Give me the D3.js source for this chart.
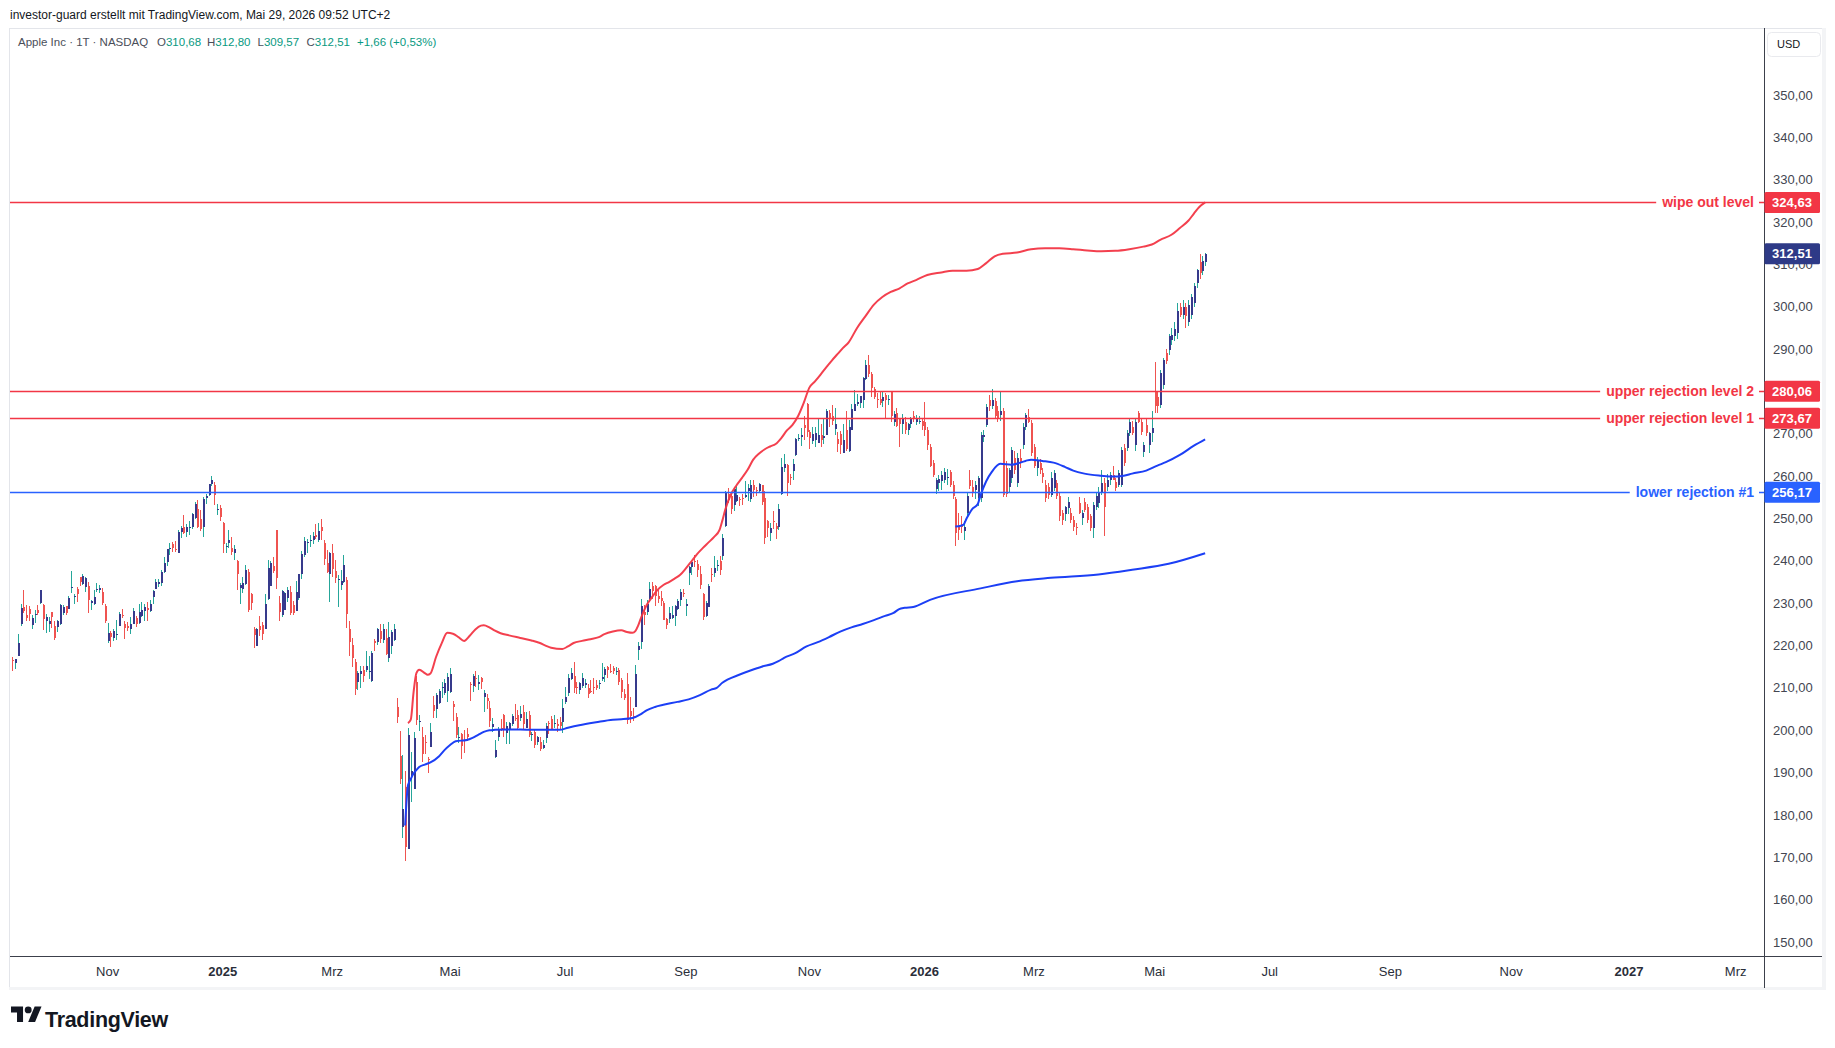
<!DOCTYPE html>
<html>
<head>
<meta charset="utf-8">
<script src="https://cdn.jsdelivr.net/npm/d3@7"></script>
<style>
  body { margin: 0; background: #fff; }
  svg text { font-family: "Liberation Sans", Arial, sans-serif; }
</style>
</head>
<body>
<svg id="chart" width="1835" height="1048"></svg>
<script>
// ---- data ----
const firstDay = "2024-09-16";
const lastAxisDay = "2027-04-30";
const holidays = [
  "2024-11-28","2024-12-25","2025-01-01","2025-01-09","2025-01-20","2025-02-17","2025-04-18",
  "2025-05-26","2025-06-19","2025-07-04","2025-09-01","2025-11-27","2025-12-25","2026-01-01",
  "2026-01-19","2026-02-16","2026-04-03","2026-05-25","2026-06-19","2026-07-03","2026-09-07",
  "2026-11-26","2026-12-25","2027-01-01","2027-01-18","2027-02-15","2027-03-26"
];
const monthNames = ["Jan","Feb","Mrz","Apr","Mai","Jun","Jul","Aug","Sep","Okt","Nov","Dez"];

// daily bars [open, high, low, close], one row per trading day from firstDay
const bars = [
  // 2024 Sep
  [216.5,217.2,213.9,216.3],[215.8,216.9,214.5,216.8],[217.6,222.7,217.5,220.7],[225.0,229.8,224.6,228.9],
  [229.0,233.1,227.6,228.2],[227.3,229.5,225.8,226.5],[228.6,229.4,225.9,227.4],[224.9,227.3,224.0,226.4],
  [227.3,228.5,225.4,227.5],[228.5,229.5,227.3,227.8],[230.0,233.0,229.7,233.0],
  // Oct
  [229.5,229.7,223.7,226.2],[225.9,227.4,223.0,226.8],[225.1,226.8,223.3,225.7],[227.9,228.0,224.1,226.8],
  [224.5,225.7,221.2,221.7],[224.3,226.0,223.3,225.8],[225.2,229.8,224.8,229.5],[227.8,229.5,227.2,229.0],
  [229.3,229.4,227.3,227.6],[228.7,231.7,228.6,231.3],[233.6,237.5,232.4,233.9],[231.6,232.1,229.8,231.8],
  [233.4,233.9,230.4,232.2],[236.2,236.2,234.0,235.0],[234.5,236.9,234.4,236.5],[233.9,236.2,232.6,235.9],
  [234.1,235.1,227.8,230.8],[230.0,230.8,228.4,230.6],[229.7,233.2,229.6,231.4],[233.3,234.7,232.6,233.4],
  [233.1,234.3,232.3,233.7],[232.6,233.5,229.6,230.1],[229.3,229.8,225.4,225.9],
  // Nov
  [221.0,225.4,220.6,222.9],[223.0,223.5,219.7,222.0],[221.8,224.0,221.1,223.5],[222.6,226.1,221.2,222.7],
  [224.6,227.9,224.6,227.5],[227.2,228.7,226.4,227.0],[225.0,225.7,221.5,224.2],[224.6,225.6,223.4,224.2],
  [223.9,226.7,222.8,225.1],[225.0,228.9,225.0,228.2],[226.4,226.9,224.3,225.0],[225.3,229.7,225.2,228.0],
  [227.0,230.2,226.7,228.3],[228.1,229.9,225.9,229.0],[228.9,230.2,225.7,228.5],[228.1,230.7,228.0,229.9],
  [231.5,233.2,229.7,232.9],[233.3,235.6,233.3,235.1],[234.5,235.7,233.8,234.9],[234.8,237.8,234.0,237.3],
  // Dec
  [237.3,240.8,237.2,239.6],[239.8,242.8,238.9,242.7],[242.9,244.1,241.3,243.0],[244.0,244.5,242.1,243.0],
  [242.9,244.6,242.1,242.8],[241.8,247.2,241.8,246.8],[246.9,248.2,245.3,247.8],[248.0,250.8,246.3,246.5],
  [246.9,248.7,245.7,248.0],[247.8,249.3,246.2,248.1],[248.0,251.4,247.6,251.0],[250.1,253.8,249.8,253.5],
  [252.2,254.3,247.7,248.1],[249.8,252.0,247.1,247.5],[248.0,255.0,245.7,254.5],[254.8,255.7,253.5,255.3],
  [255.5,258.2,255.3,258.2],[258.2,260.1,257.6,259.0],[257.8,258.7,253.1,255.6],[252.2,253.5,250.8,252.2],
  [252.4,253.3,249.4,250.4],
  // 2025 Jan
  [248.9,249.1,241.8,243.9],[243.4,244.2,241.9,243.4],[244.3,247.3,243.0,245.0],[243.0,245.6,241.4,242.2],
  [241.9,243.7,240.1,242.7],[240.0,240.2,233.0,236.9],[233.5,234.7,229.7,234.4],[233.3,236.1,232.5,234.8],
  [234.6,239.0,234.4,237.9],[237.4,238.0,228.0,228.3],[232.1,232.3,228.5,230.0],[224.0,224.4,219.4,222.6],
  [219.8,224.1,219.8,223.8],[224.7,227.0,222.3,223.7],[224.8,225.6,221.4,222.8],[224.0,232.2,223.8,229.9],
  [230.9,240.2,230.8,238.3],[234.1,239.9,234.0,239.4],[238.7,240.8,237.2,237.6],[247.2,247.2,233.4,236.0],
  // Feb
  [230.0,231.8,225.7,228.0],[227.3,233.1,226.7,232.8],[228.5,232.7,228.3,232.5],[231.3,233.8,230.4,233.2],
  [232.6,234.0,227.3,227.6],[229.6,230.6,227.2,227.7],[228.2,235.2,228.1,232.6],[231.2,237.0,230.7,236.9],
  [236.9,242.3,235.6,241.5],[241.3,245.6,241.0,244.6],[244.2,245.2,241.8,244.5],[244.7,246.0,243.2,244.9],
  [244.9,246.8,244.0,245.8],[246.0,248.7,245.2,245.6],[244.9,248.9,244.4,247.1],[248.0,250.0,244.9,247.0],
  [244.3,245.0,239.1,240.4],[239.4,242.5,237.1,237.3],[237.0,242.1,230.2,241.8],
  // Mar
  [241.8,244.0,236.1,238.0],[237.7,240.1,234.7,235.9],[235.4,236.6,229.2,235.7],[234.4,237.9,233.2,235.3],
  [235.1,241.4,234.8,239.1],[235.5,236.2,224.2,227.5],[223.8,225.8,217.5,220.8],[220.1,221.8,214.9,217.0],
  [216.0,216.8,208.4,209.7],[211.3,214.0,209.6,213.5],[213.3,215.2,210.0,214.0],[214.2,215.2,211.5,212.7],
  [214.2,218.8,213.7,215.2],[214.0,217.5,212.2,214.1],[211.6,218.8,211.3,218.3],[221.0,221.5,218.6,220.7],
  [220.8,224.1,220.1,223.8],[223.5,225.0,220.5,221.5],[221.4,225.0,220.6,223.9],[221.7,223.8,217.7,217.9],
  [217.0,225.6,216.2,222.1],
  // Apr
  [219.8,223.7,218.1,223.2],[221.3,225.2,221.0,223.9],[205.5,207.5,201.7,203.2],[193.9,199.9,187.3,188.4],
  [177.2,194.2,174.6,181.5],[186.7,190.3,169.2,172.4],[172.0,200.6,171.9,198.9],[189.1,194.8,183.0,190.4],
  [186.1,199.5,186.1,198.2],[211.4,212.9,201.2,202.5],[201.9,203.5,199.8,202.1],[198.4,200.7,192.4,194.3],
  [197.2,198.8,194.4,197.0],[193.3,193.8,189.8,193.2],[196.1,201.6,196.0,199.7],[206.0,208.0,202.8,204.6],
  [204.9,208.8,202.9,208.4],[206.4,209.8,206.2,209.3],[210.0,211.5,207.5,210.1],[208.7,212.2,208.4,211.2],
  [209.3,213.6,206.7,212.5],
  // May
  [209.1,214.6,208.9,213.3],[206.1,207.0,202.2,205.4],[203.1,204.1,198.2,198.9],[198.2,200.7,197.0,198.5],
  [199.2,199.4,193.3,196.3],[197.7,200.1,194.7,197.5],[199.0,200.5,197.5,198.5],[211.0,211.3,206.8,210.8],
  [210.4,213.4,209.0,212.9],[212.4,213.9,210.2,212.3],[211.0,213.0,209.5,211.5],[212.4,212.6,209.8,211.3],
  [207.9,209.5,204.3,208.8],[207.7,208.5,205.0,206.9],[205.2,207.0,200.7,202.1],[200.7,202.8,199.7,201.4],
  [193.7,197.7,193.5,195.3],[198.3,200.7,197.4,200.2],[200.6,202.7,199.9,200.4],[203.6,203.8,198.5,200.0],
  [199.4,202.0,196.8,200.9],
  // Jun
  [200.3,202.0,196.8,201.7],[201.4,203.9,201.0,203.3],[202.9,206.2,202.1,202.8],[203.5,204.8,200.2,200.6],
  [203.0,205.7,202.1,203.9],[204.4,206.0,200.0,201.5],[200.6,204.4,200.6,202.7],[203.5,204.5,198.4,198.8],
  [199.1,199.7,197.4,199.2],[199.7,200.4,195.7,196.5],[197.3,198.7,196.6,198.4],[197.2,198.4,195.2,195.6],
  [195.9,197.6,195.6,196.6],[198.2,201.7,196.9,201.0],[201.6,202.3,199.0,201.5],[202.6,203.4,200.2,200.3],
  [201.5,203.7,200.6,201.6],[201.4,202.6,199.5,201.0],[201.9,203.2,200.0,201.1],[202.0,207.4,199.3,205.2],
  // Jul
  [206.7,210.2,206.1,207.8],[208.9,213.3,208.1,212.4],[212.2,214.7,211.8,213.6],[212.7,216.2,208.8,210.0],
  [210.1,211.4,208.5,210.0],[209.5,211.3,208.6,211.1],[210.5,213.5,210.0,212.4],[210.6,212.1,209.9,211.2],
  [209.9,210.9,207.5,208.6],[209.2,211.9,208.9,209.1],[210.3,212.4,208.6,210.2],[210.6,211.8,209.6,210.0],
  [210.9,211.8,209.7,211.2],[212.1,215.8,211.6,212.5],[213.1,215.0,211.5,214.4],[215.0,215.2,212.4,214.2],
  [213.9,215.7,213.5,213.8],[214.7,215.2,213.4,213.9],[214.0,214.9,213.1,214.1],[214.2,214.8,210.8,211.3],
  [211.9,212.4,207.7,209.1],[208.5,209.8,207.2,207.6],
  // Aug
  [210.9,213.6,201.5,202.4],[204.5,207.9,201.7,203.4],[203.4,205.3,202.2,202.9],[205.6,215.4,205.6,213.3],
  [218.9,220.9,216.6,220.0],[220.8,231.0,219.3,229.4],[227.9,229.6,224.8,227.2],[228.0,230.8,227.1,229.7],
  [231.1,235.0,230.4,233.3],[234.1,235.1,230.9,232.8],[234.0,234.3,229.3,231.6],[231.7,233.1,230.1,230.9],
  [231.3,232.9,229.4,230.6],[230.0,230.5,226.0,226.0],[226.3,226.5,223.8,224.9],[226.2,229.1,225.4,227.8],
  [226.5,229.3,226.2,227.2],[226.9,229.5,224.7,229.3],[228.6,230.9,228.3,230.5],[230.8,233.4,229.3,232.6],
  [232.5,233.4,231.4,232.1],
  // Sep
  [229.3,230.9,227.0,229.7],[237.2,238.9,234.4,238.5],[238.5,239.9,236.7,239.8],[240.0,241.3,238.5,239.7],
  [239.3,240.2,236.3,237.9],[237.0,238.8,233.4,234.4],[232.2,232.4,226.0,226.8],[226.9,230.5,226.7,230.0],
  [229.2,234.5,229.0,234.1],[237.0,238.2,235.0,236.7],[237.2,241.2,236.3,238.2],[239.0,240.1,237.7,239.0],
  [240.0,241.2,236.7,237.9],[241.2,246.3,240.2,245.5],[248.3,256.6,248.1,256.1],[255.9,257.3,253.6,254.4],
  [255.2,255.7,251.0,252.3],[253.2,257.2,251.7,256.9],[254.1,257.6,253.8,255.5],[254.6,255.0,253.0,254.4],
  [254.9,255.9,253.1,254.6],
  // Oct
  [255.0,258.8,254.9,255.5],[256.6,258.2,254.2,257.1],[254.7,259.2,254.0,258.0],[258.0,259.1,255.1,256.7],
  [256.8,257.4,255.4,256.5],[256.5,258.5,256.1,258.1],[257.8,258.0,253.1,254.0],[254.9,256.4,244.0,245.3],
  [249.4,249.7,245.6,247.7],[246.6,248.9,244.7,247.8],[249.5,251.8,247.5,249.3],[248.3,249.0,245.1,247.5],
  [248.0,253.4,247.3,252.3],[255.9,264.4,255.6,262.2],[261.9,265.3,261.0,262.8],[262.7,262.9,255.4,258.5],
  [259.9,260.6,258.0,259.6],[261.2,264.1,259.2,262.8],[264.9,269.1,264.7,268.8],[269.0,269.9,268.2,269.0],
  [269.3,271.4,267.1,269.7],[272.0,274.1,268.5,271.4],[277.0,277.3,269.2,270.4],
  // Nov
  [270.4,270.9,266.3,269.1],[268.3,271.5,267.6,270.0],[268.6,271.7,266.9,270.1],[267.9,273.4,267.9,269.8],
  [269.8,272.3,266.8,268.5],[269.0,273.7,267.5,269.4],[269.8,275.9,269.8,275.3],[275.0,275.7,271.7,273.5],
  [274.1,276.7,272.1,273.0],[271.1,276.0,269.6,272.4],[268.8,270.5,265.7,267.5],[270.0,270.7,265.3,267.4],
  [265.5,272.2,265.5,268.6],[270.8,275.4,265.9,266.3],[266.0,273.3,265.7,271.5],[270.9,277.0,270.9,275.9],
  [275.3,280.4,275.3,277.0],[277.0,279.5,276.6,277.6],[277.3,279.0,276.0,278.9],
  // Dec
  [278.0,283.4,276.1,283.1],[283.0,287.4,282.6,286.2],[286.2,288.6,283.3,284.2],[284.1,284.7,278.6,280.7],
  [280.5,281.1,278.1,278.8],[278.1,279.7,276.2,277.9],[278.2,280.0,276.9,277.2],[277.8,279.8,276.4,278.8],
  [279.1,279.6,273.8,278.0],[277.9,279.2,276.8,278.3],[280.2,280.2,272.8,274.1],[272.8,275.5,271.8,274.6],
  [275.0,276.2,271.6,271.8],[273.6,273.6,267.0,272.2],[272.2,274.6,269.9,273.7],[272.9,273.9,270.0,271.0],
  [270.8,272.5,269.6,272.4],[272.3,274.0,271.4,273.8],[274.2,275.4,272.9,273.4],[272.7,274.4,272.0,273.8],
  [272.8,274.1,272.3,273.1],[273.1,273.7,271.0,271.9],
  // 2026 Jan
  [272.7,277.5,269.5,271.0],[270.8,271.5,266.2,267.3],[267.0,267.6,262.1,262.4],[263.2,263.7,259.8,260.3],
  [257.0,259.5,255.8,259.0],[258.5,260.2,256.6,259.4],[258.8,261.3,256.8,260.2],[259.0,262.0,258.3,261.0],
  [259.5,261.8,257.9,259.9],[261.0,261.5,257.5,258.0],[258.0,258.8,254.6,255.3],[254.5,255.0,243.4,246.5],
  [248.5,251.2,245.0,247.3],[248.8,250.5,246.5,247.9],[247.0,249.5,245.0,248.1],[251.3,256.0,250.5,255.2],
  [259.0,261.5,257.0,257.6],[257.5,259.0,255.0,256.0],[256.8,258.8,254.5,258.0],[254.8,260.0,253.0,259.5],
  // Feb
  [254.8,270.5,254.0,269.8],[269.2,271.0,268.0,269.6],[272.1,277.0,271.5,276.4],[278.0,279.2,275.5,276.5],
  [276.6,280.5,275.8,278.0],[277.8,278.5,273.5,274.1],[275.3,276.5,272.8,273.7],[274.5,280.0,273.0,275.4],
  [275.3,276.0,255.0,255.6],[262.0,263.5,255.0,255.8],[257.5,262.0,256.0,261.5],[259.5,267.0,258.5,266.2],
  [264.2,266.0,260.5,261.5],[258.5,265.5,257.5,264.2],[264.2,266.5,262.0,263.0],[267.4,272.5,266.5,271.7],
  [271.7,275.0,271.0,274.5],[273.9,275.8,272.5,272.9],[272.5,273.2,264.8,265.4],
  // Mar
  [267.0,267.5,262.0,262.3],[262.0,264.5,260.0,263.5],[263.0,264.0,260.5,261.5],[260.7,262.0,258.5,259.9],
  [258.0,259.0,254.0,254.8],[257.5,258.5,254.5,255.6],[255.6,261.0,255.0,259.5],[257.2,261.5,256.5,260.7],
  [258.3,259.0,254.5,255.2],[255.2,256.0,249.5,250.5],[251.3,252.0,248.5,249.7],[251.0,253.0,249.5,252.8],
  [252.5,255.0,251.0,254.0],[251.3,252.5,249.0,249.7],[249.7,250.5,247.0,248.1],[248.0,249.0,246.2,247.9],
  [253.6,255.0,251.0,251.3],[250.1,252.0,248.5,251.4],[254.0,254.8,251.5,252.0],[252.8,253.5,249.0,249.7],
  [250.5,251.0,247.0,247.7],[247.7,254.0,245.5,253.2],
  // Apr
  [252.8,256.0,252.0,255.2],[253.6,257.5,252.5,256.0],[256.0,261.5,255.5,258.5],[258.5,259.5,245.8,252.8],
  [257.5,260.5,256.5,259.1],[259.1,261.0,258.0,260.3],[260.3,262.5,259.0,259.2],[258.7,259.5,256.5,257.2],
  [258.0,261.5,257.5,260.7],[258.0,266.8,257.5,266.2],[266.6,267.5,262.5,263.1],[266.6,271.0,266.0,270.1],
  [270.1,273.5,269.5,272.9],[271.7,273.0,269.8,270.1],[267.4,273.5,266.0,272.9],[274.9,275.5,272.5,272.9],
  [272.9,273.5,269.8,270.5],[265.8,268.0,264.5,267.4],[272.1,273.5,269.5,270.1],[267.4,270.5,265.5,270.1],
  [270.1,275.5,268.0,271.3],
  // May
  [280.0,287.0,274.9,276.5],[278.8,280.0,275.0,276.5],[276.9,285.0,276.0,284.3],[281.5,288.0,280.5,287.5],
  [289.0,290.0,286.5,287.1],[289.8,293.5,288.5,293.0],[292.2,295.0,291.0,293.4],[293.0,296.5,292.0,294.7],
  [293.7,300.8,292.5,298.9],[300.0,301.0,297.5,298.1],[298.1,301.5,297.0,300.0],[300.0,301.0,295.0,297.7],
  [296.5,301.5,295.5,300.4],[298.1,303.0,297.0,302.4],[300.8,305.5,300.0,304.8],[305.5,309.0,304.5,308.7],
  [310.5,312.5,306.5,307.9],[308.5,312.0,307.5,310.85],[310.68,312.80,309.57,312.51]
];

// anchored VWAP from the April 2025 low and its upper band, VWAP from the January 2026 low
const upperBand = [
  ["2025-04-09",201.7],["2025-04-10",202.5],["2025-04-11",209.0],["2025-04-14",213.5],["2025-04-15",214.3],
  ["2025-04-17",213.5],["2025-04-21",213.1],["2025-04-22",213.4],["2025-04-24",217.3],["2025-04-28",220.5],
  ["2025-04-30",223.0],["2025-05-02",222.8],["2025-05-06",222.0],["2025-05-08",221.1],["2025-05-12",222.3],
  ["2025-05-14",223.8],["2025-05-16",224.7],["2025-05-19",224.8],["2025-05-21",224.3],["2025-05-23",223.5],
  ["2025-05-28",222.9],["2025-06-02",222.4],["2025-06-06",221.8],["2025-06-12",221.2],["2025-06-17",220.6],
  ["2025-06-20",220.0],["2025-06-24",219.5],["2025-06-30",219.2],["2025-07-02",219.8],["2025-07-07",220.6],
  ["2025-07-10",221.1],["2025-07-15",221.5],["2025-07-18",222.0],["2025-07-22",222.7],["2025-07-25",223.3],
  ["2025-07-30",223.6],["2025-08-01",223.2],["2025-08-05",223.0],["2025-08-06",223.4],["2025-08-07",224.7],
  ["2025-08-08",226.5],["2025-08-12",229.5],["2025-08-14",231.5],["2025-08-18",233.2],["2025-08-20",234.3],
  ["2025-08-22",235.0],["2025-08-26",235.8],["2025-08-28",236.7],["2025-09-02",238.2],["2025-09-04",239.9],
  ["2025-09-08",241.6],["2025-09-10",243.0],["2025-09-12",244.3],["2025-09-16",245.6],["2025-09-18",247.3],
  ["2025-09-19",249.5],["2025-09-22",252.0],["2025-09-24",255.6],["2025-09-26",257.8],["2025-09-30",259.6],
  ["2025-10-02",261.5],["2025-10-06",263.9],["2025-10-08",265.3],["2025-10-10",266.3],["2025-10-14",267.0],
  ["2025-10-16",267.6],["2025-10-20",269.0],["2025-10-22",270.8],["2025-10-24",272.1],["2025-10-28",274.2],
  ["2025-10-30",277.3],["2025-11-03",280.9],["2025-11-05",282.4],["2025-11-07",284.0],["2025-11-11",285.7],
  ["2025-11-13",287.3],["2025-11-17",288.8],["2025-11-19",290.3],["2025-11-21",291.6],["2025-11-26",295.0],
  ["2025-12-02",297.8],["2025-12-05",300.5],["2025-12-10",302.3],["2025-12-15",303.5],["2025-12-18",304.3],
  ["2025-12-23",305.5],["2025-12-29",306.3],["2026-01-05",307.5],["2026-01-12",308.1],["2026-01-16",308.5],
  ["2026-01-26",308.5],["2026-01-30",308.9],["2026-02-04",310.3],["2026-02-09",311.9],["2026-02-12",312.5],
  ["2026-02-20",312.8],["2026-02-27",313.6],["2026-03-06",313.8],["2026-03-13",313.8],["2026-03-20",313.6],
  ["2026-03-27",313.3],["2026-04-06",313.1],["2026-04-13",313.2],["2026-04-20",313.6],["2026-04-27",314.2],
  ["2026-04-30",314.7],["2026-05-05",315.8],["2026-05-11",317.0],["2026-05-14",318.6],["2026-05-19",320.3],
  ["2026-05-21",322.0],["2026-05-26",323.6],["2026-05-28",324.63]
];
const vwapApr = [
  ["2025-04-08",177.5],["2025-04-09",187.0],["2025-04-10",188.5],["2025-04-11",189.8],["2025-04-14",190.6],
  ["2025-04-15",191.3],["2025-04-17",191.9],["2025-04-22",192.4],["2025-04-25",193.8],["2025-04-29",195.3],
  ["2025-05-01",196.5],["2025-05-05",197.4],["2025-05-09",197.7],["2025-05-13",198.2],["2025-05-15",198.9],
  ["2025-05-19",199.6],["2025-05-21",200.0],["2025-05-23",200.1],["2025-06-02",200.2],["2025-06-12",200.1],
  ["2025-06-20",200.1],["2025-06-27",200.1],["2025-07-02",200.6],["2025-07-09",201.2],["2025-07-17",201.9],
  ["2025-07-25",202.5],["2025-07-30",202.6],["2025-08-05",202.9],["2025-08-08",203.8],["2025-08-12",204.7],
  ["2025-08-15",205.5],["2025-08-20",206.0],["2025-08-27",206.7],["2025-09-03",207.3],["2025-09-09",208.3],
  ["2025-09-15",209.6],["2025-09-17",210.0],["2025-09-19",211.2],["2025-09-23",212.0],["2025-09-29",213.1],
  ["2025-10-03",214.1],["2025-10-09",215.0],["2025-10-15",215.7],["2025-10-17",216.3],["2025-10-21",217.1],
  ["2025-10-27",218.2],["2025-10-31",219.8],["2025-11-06",220.8],["2025-11-12",222.0],["2025-11-18",223.3],
  ["2025-11-24",224.3],["2025-12-01",225.1],["2025-12-05",226.0],["2025-12-11",227.0],["2025-12-16",227.7],
  ["2025-12-18",228.6],["2025-12-22",228.9],["2025-12-26",229.1],["2026-01-06",230.8],["2026-02-02",233.5],
  ["2026-02-20",235.2],["2026-03-10",236.0],["2026-04-02",236.8],["2026-04-21",237.9],["2026-05-08",239.3],
  ["2026-05-28",241.8]
];
const vwapJan = [
  ["2026-01-20",248.1],["2026-01-22",248.3],["2026-01-23",248.6],["2026-01-26",250.0],["2026-01-27",251.2],
  ["2026-01-28",252.2],["2026-01-30",253.4],["2026-02-02",255.5],["2026-02-04",258.8],["2026-02-06",261.0],
  ["2026-02-11",262.9],["2026-02-18",262.7],["2026-02-25",263.6],["2026-02-27",263.9],["2026-03-05",263.6],
  ["2026-03-11",263.2],["2026-03-17",262.2],["2026-03-20",261.3],["2026-03-26",260.6],["2026-04-06",260.1],
  ["2026-04-10",259.9],["2026-04-16",260.1],["2026-04-21",260.6],["2026-04-28",261.3],["2026-05-04",262.5],
  ["2026-05-07",263.3],["2026-05-14",265.0],["2026-05-21",267.2],["2026-05-28",268.7]
];

// horizontal levels
const levelNames = ["wipe out level", "upper rejection level 2", "upper rejection level 1", "lower rejection #1"];
const levelValues = [324.63, 280.06, 273.67, 256.17];
const levelKinds = ["resistance", "resistance", "resistance", "support"];

const priceTicks = d3.range(150, 351, 10);
const caption = "investor-guard erstellt mit TradingView.com, Mai 29, 2026 09:52 UTC+2";
const symbolTitle = "Apple Inc · 1T · NASDAQ";
const lastChange = "+1,66 (+0,53%)";

// ---- setup ----
const W = 1835, H = 1048;
const pane = { left: 10, right: 1764, top: 29, bottom: 956 };
const RED = "#f23645", BLUE = "#2962ff", UP = "#363a8c", UPWICK = "#26a69a", DOWN = "#ef5350";
const VWAPBLUE = "#1c3ff5", AXIS = "#3c404b";

const locale = d3.formatLocale({ decimal: ",", thousands: ".", grouping: [3], currency: ["", ""] });
const fmtPrice = locale.format(".2f");

const parse = d3.utcParse("%Y-%m-%d");
const fmtDay = d3.utcFormat("%Y-%m-%d");
const days = d3.utcDay.range(parse(firstDay), d3.utcDay.offset(parse(lastAxisDay), 1))
  .filter(d => d.getUTCDay() !== 0 && d.getUTCDay() !== 6 && !holidays.includes(fmtDay(d)));
const dayIndex = new Map(days.map((d, i) => [fmtDay(d), i]));

const x = d3.scaleLinear().domain([-0.78, 624.1]).range([pane.left, pane.right]);
const y = d3.scaleLinear().domain([150, 350]).range([942, 95]);

const svg = d3.select("#chart");
svg.append("rect").attr("width", W).attr("height", H).attr("fill", "#fff");

// outer frame
svg.append("rect")
  .attr("x", 9.5).attr("y", 28.5).attr("width", 1815).attr("height", 960)
  .attr("fill", "none").attr("stroke", "#e3e5ea").attr("stroke-width", 1);
svg.append("rect").attr("x", 1822).attr("y", 28).attr("width", 4).attr("height", 962).attr("fill", "#f3f4f6");
svg.append("rect").attr("x", 9).attr("y", 987).attr("width", 1817).attr("height", 3).attr("fill", "#f3f4f6");

svg.append("defs").append("clipPath").attr("id", "paneClip")
  .append("rect").attr("x", pane.left).attr("y", pane.top)
  .attr("width", pane.right - pane.left).attr("height", pane.bottom - pane.top);

const plot = svg.append("g").attr("clip-path", "url(#paneClip)");

// candles
const candles = plot.append("g").attr("shape-rendering", "crispEdges");
bars.forEach((b, i) => {
  const [o, h, l, c] = b;
  const cx = Math.round(x(i));
  const up = c >= o;
  candles.append("line")
    .attr("x1", cx + 0.5).attr("x2", cx + 0.5)
    .attr("y1", y(h)).attr("y2", y(l))
    .attr("stroke", up ? UPWICK : DOWN).attr("stroke-width", 1);
  const top = y(Math.max(o, c)), bot = y(Math.min(o, c));
  candles.append("rect")
    .attr("x", cx - 0.5).attr("width", 2)
    .attr("y", top).attr("height", Math.max(1, bot - top))
    .attr("fill", up ? UP : DOWN);
});

// indicator curves
const curve = d3.line()
  .x(d => x(dayIndex.get(d[0])))
  .y(d => y(d[1]))
  .curve(d3.curveMonotoneX);
plot.append("path").datum(upperBand).attr("d", curve)
  .attr("fill", "none").attr("stroke", RED).attr("stroke-width", 2).attr("stroke-opacity", 0.95);
plot.append("path").datum(vwapApr).attr("d", curve)
  .attr("fill", "none").attr("stroke", VWAPBLUE).attr("stroke-width", 2);
plot.append("path").datum(vwapJan).attr("d", curve)
  .attr("fill", "none").attr("stroke", VWAPBLUE).attr("stroke-width", 2);

// horizontal levels with right aligned labels
levelValues.forEach((v, i) => {
  const col = levelKinds[i] === "support" ? BLUE : RED;
  const ly = Math.round(y(v)) + 0.5;
  const g = svg.append("g");
  g.append("line")
    .attr("x1", pane.left).attr("x2", pane.right)
    .attr("y1", ly).attr("y2", ly)
    .attr("stroke", col).attr("stroke-width", 1.6);
  const bg = g.append("rect").attr("fill", "#fff");
  const t = g.append("text")
    .attr("x", pane.right - 10).attr("y", ly).attr("dy", "0.35em")
    .attr("text-anchor", "end")
    .attr("font-size", 14).attr("font-weight", "bold")
    .attr("fill", col).text(levelNames[i]);
  const w = t.node().getComputedTextLength();
  bg.attr("x", pane.right - 10 - w - 6).attr("width", w + 11)
    .attr("y", ly - 9).attr("height", 18);
});

// axes lines
svg.append("line").attr("x1", pane.right + 0.5).attr("x2", pane.right + 0.5)
  .attr("y1", 28).attr("y2", 988).attr("stroke", AXIS).attr("stroke-width", 1);
svg.append("line").attr("x1", pane.left).attr("x2", 1822)
  .attr("y1", pane.bottom + 0.5).attr("y2", pane.bottom + 0.5).attr("stroke", AXIS).attr("stroke-width", 1);

// price axis labels
const yAxis = svg.append("g");
priceTicks.forEach(p => {
  yAxis.append("text")
    .attr("x", 1773).attr("y", y(p)).attr("dy", "0.35em")
    .attr("font-size", 13).attr("fill", "#434651")
    .text(fmtPrice(p));
});

// USD box
svg.append("rect").attr("x", 1767.5).attr("y", 32.5).attr("width", 53).attr("height", 24).attr("rx", 4)
  .attr("fill", "#fff").attr("stroke", "#e9eaee");
svg.append("text").attr("x", 1777).attr("y", 44.5).attr("dy", "0.35em")
  .attr("font-size", 11).attr("fill", "#131722").text("USD");

// price boxes on the axis
function priceBox(v, col) {
  const cy = y(v);
  svg.append("rect").attr("x", pane.right + 0.5).attr("y", cy - 10.5)
    .attr("width", 55.5).attr("height", 21).attr("rx", 1.5).attr("fill", col);
  svg.append("text").attr("x", 1792).attr("y", cy).attr("dy", "0.36em")
    .attr("text-anchor", "middle").attr("font-size", 13).attr("font-weight", "bold")
    .attr("fill", "#fff").text(fmtPrice(v));
}
levelValues.forEach((v, i) => priceBox(v, levelKinds[i] === "support" ? BLUE : RED));
priceBox(bars[bars.length - 1][3], "#2e3a87");

// time axis: first trading day of every second month
const tAxis = svg.append("g");
days.forEach((d, i) => {
  const prev = days[i - 1];
  if (prev && prev.getUTCMonth() === d.getUTCMonth()) return;
  if (d.getUTCMonth() % 2 !== 0) return;
  const px = x(i);
  if (px < pane.left + 20 || px > pane.right - 20) return;
  const isYear = d.getUTCMonth() === 0;
  tAxis.append("text")
    .attr("x", px).attr("y", 971).attr("dy", "0.35em")
    .attr("text-anchor", "middle").attr("font-size", 13)
    .attr("font-weight", isYear ? "bold" : "normal")
    .attr("fill", "#2a2e39")
    .text(isYear ? d.getUTCFullYear() : monthNames[d.getUTCMonth()]);
});

// caption and legend
svg.append("text").attr("x", 10).attr("y", 15).attr("dy", "0.35em")
  .attr("font-size", 12).attr("fill", "#131722").text(caption);

const last = bars[bars.length - 1];
const legend = svg.append("text").attr("y", 42).attr("dy", "0.35em").attr("font-size", 11.5);
legend.append("tspan").attr("x", 18).attr("fill", "#4a4e59").text(symbolTitle);
const ohlcLabels = ["O", "H", "L", "C"];
const ohlcX = [157, 207, 257.5, 306.5];
ohlcLabels.forEach((lab, k) => {
  legend.append("tspan").attr("x", ohlcX[k]).attr("fill", "#4a4e59").text(lab);
  legend.append("tspan").attr("fill", "#089981").text(fmtPrice(last[k]));
});
legend.append("tspan").attr("x", 357).attr("fill", "#089981").text(lastChange);

// TradingView logo
const logo = svg.append("g").attr("transform", "translate(11,1003) scale(0.86)").attr("fill", "#131722");
logo.append("path").attr("d", "M14 22H7V11H0V4h14v18zM28 22h-8l7.5-18h8L28 22z");
logo.append("circle").attr("cx", 20).attr("cy", 8).attr("r", 4);
svg.append("text").attr("x", 45).attr("y", 1027)
  .attr("font-size", 21.5).attr("font-weight", "bold").attr("fill", "#131722")
  .attr("letter-spacing", "-0.3").text("TradingView");
</script>
</body>
</html>
